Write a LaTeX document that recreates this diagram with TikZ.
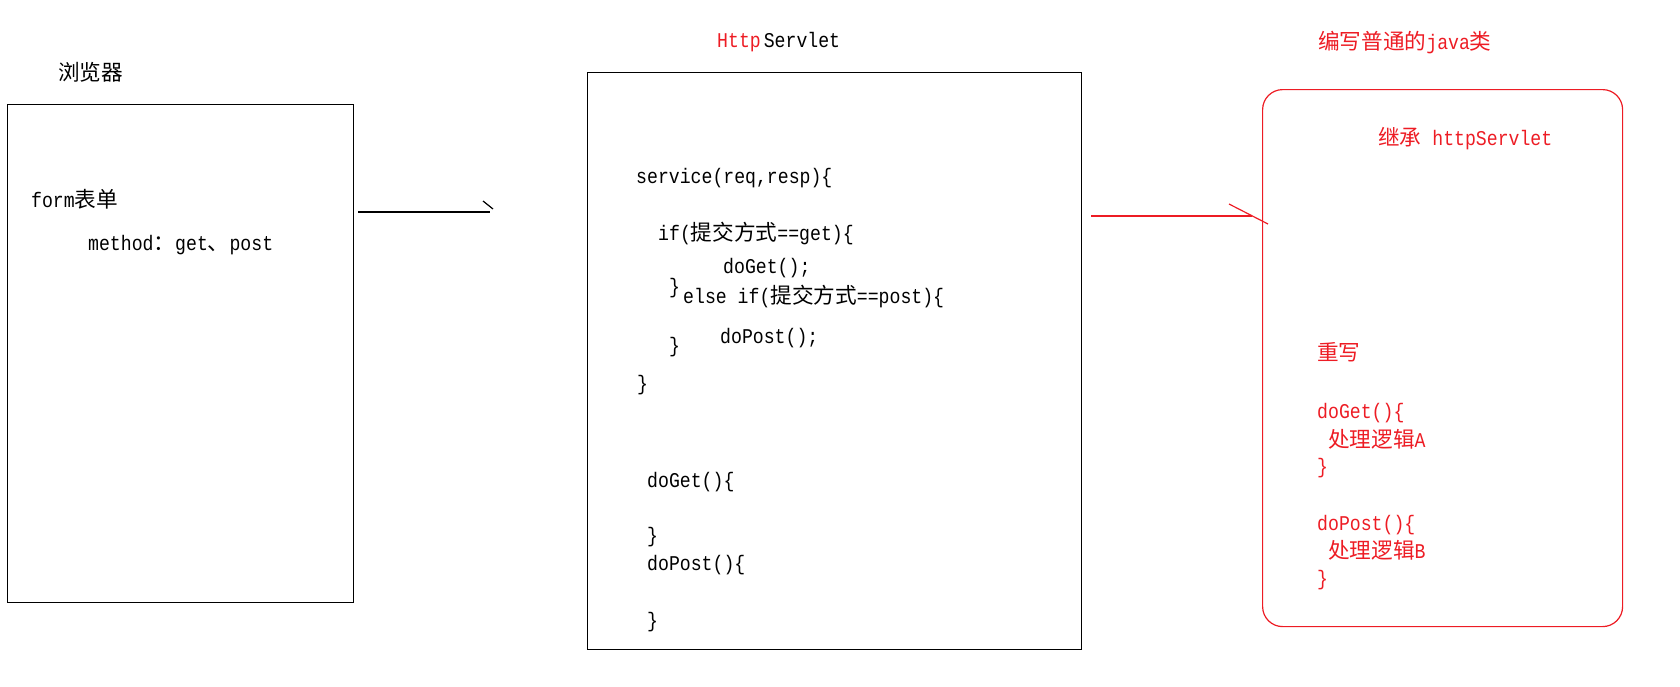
\documentclass[tikz,border=0pt]{standalone}
\usepackage{fontspec}
\setmainfont{Liberation Mono}[FakeStretch=0.865]
\newfontfamily\cjk{Noto Sans CJK SC}[Scale=1.03]
\newcommand{\zh}[1]{{\cjk #1}}
\definecolor{pred}{RGB}{237,28,36}
\begin{document}
\begin{tikzpicture}[x=1pt,y=-1pt,
  txt/.style={anchor=base west,inner sep=0pt,font=\fontsize{21}{24}\selectfont},
  rtxt/.style={txt,text=pred},
  blackbox/.style={draw=black,line width=1.2pt,anchor=north west,inner sep=0pt},
  redbox/.style={draw=pred,line width=1.2pt,anchor=north west,inner sep=0pt,rounded corners=20pt},
  blackline/.style={draw=black,line width=1.2pt},
  redline/.style={draw=pred,line width=1.2pt}]
\useasboundingbox (0,0) rectangle (1680,686);
% boxes
\node[blackbox,minimum width=346pt,minimum height=498pt] (browser) at (7,104) {};
\node[blackbox,minimum width=494pt,minimum height=577pt] (servlet) at (587,72) {};
\node[redbox,minimum width=360pt,minimum height=537pt] (javacls) at (1262,89) {};
% left texts
\node[txt] (tbrowser) at (58,80) {\zh{浏览器}};
\node[txt] (tform) at (31,207) {form\zh{表单}};
\node[txt] (tmethod) at (88,250) {method\zh{：}get\zh{、}post};
% middle title
\node[txt] (thttp) at (717,47) {\textcolor{pred}{Http}\hspace{3pt}Servlet};
% middle code
\node[txt] (c1) at (636,183) {service(req,resp)\{};
\node[txt] (c2) at (658,240) {if(\zh{提交方式}==get)\{};
\node[txt] (c3) at (723,273) {doGet();};
\node[txt] (c4) at (669,293) {\}};
\node[txt] (c5) at (683,303) {else if(\zh{提交方式}==post)\{};
\node[txt] (c6) at (720,343) {doPost();};
\node[txt] (c7) at (669,352) {\}};
\node[txt] (c8) at (637,390) {\}};
\node[txt] (c9) at (647,487) {doGet()\{};
\node[txt] (c10) at (647,542) {\}};
\node[txt] (c11) at (647,570) {doPost()\{};
\node[txt] (c12) at (647,627) {\}};
% right texts
\node[rtxt] (ttitle) at (1318,49) {\zh{编写普通的}java\zh{类}};
\node[rtxt] (r1) at (1378,145) {\zh{继承} httpServlet};
\node[rtxt] (r2) at (1317,360) {\zh{重写}};
\node[rtxt] (r3) at (1317,418) {doGet()\{};
\node[rtxt] (r4) at (1328,447) {\zh{处理逻辑}A};
\node[rtxt] (r5) at (1317,473) {\}};
\node[rtxt] (r6) at (1317,530) {doPost()\{};
\node[rtxt] (r7) at (1328,558) {\zh{处理逻辑}B};
\node[rtxt] (r8) at (1317,585) {\}};
% arrows
\coordinate (a1s) at (358,212);
\coordinate (a1e) at (490,212);
\coordinate (a1b1) at (483,201);
\coordinate (a1b2) at (493,209);
\draw[blackline] (a1s) -- (a1e);
\draw[blackline] (a1b1) -- (a1b2);
\coordinate (a2s) at (1091,216);
\coordinate (a2e) at (1252,216);
\coordinate (a2b1) at (1229,204);
\coordinate (a2b2) at (1268,224);
\draw[redline] (a2s) -- (a2e);
\draw[redline] (a2b1) -- (a2b2);
\end{tikzpicture}
\end{document}
